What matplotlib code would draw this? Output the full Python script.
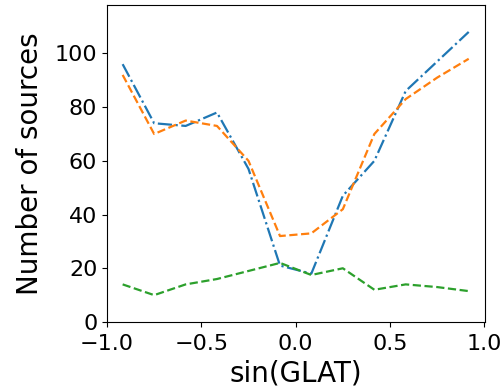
import numpy as np
import matplotlib
matplotlib.use("Agg")
import matplotlib.pyplot as plt

# bin centres in sin(GLAT)
sin_glat = [-0.917, -0.75, -0.583, -0.417, -0.25, -0.083, 0.083, 0.25, 0.417, 0.583, 0.75, 0.917]

# counts per bin for each series
series_a = [96, 74, 73, 78, 57, 21, 18, 47, 60, 86, 97, 108]
series_b = [92, 70, 75, 73, 60, 32, 33, 42, 70, 83, 91, 98]
series_c = [14, 10, 14, 16, 19, 22, 17.5, 20, 12, 14, 13, 11.5]

fig = plt.figure(figsize=(5.02, 3.91), dpi=100)
ax = fig.add_axes([0.2131, 0.1765, 0.7529, 0.8105])

ax.plot(sin_glat, series_a, linestyle='-.', color='tab:blue', lw=1.6)
ax.plot(sin_glat, series_b, linestyle='--', color='tab:orange', lw=1.6)
ax.plot(sin_glat, series_c, linestyle='--', color='tab:green', lw=1.6)

ax.set_xlim(-1.0, 1.003)
ax.set_ylim(0, 118)
ax.set_xticks([-1.0, -0.5, 0.0, 0.5, 1.0])
ax.set_yticks([0, 20, 40, 60, 80, 100])
ax.tick_params(labelsize=16)
ax.tick_params(axis='x', pad=5)
ax.set_xlabel('sin(GLAT)', fontsize=20, labelpad=4)
ax.set_ylabel('Number of sources', fontsize=20, labelpad=8)

fig.savefig('out.png', dpi=100)
